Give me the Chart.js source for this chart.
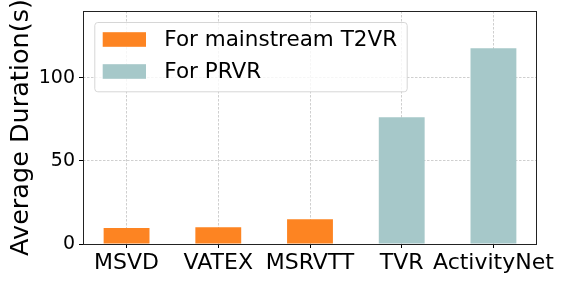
<!DOCTYPE html>
<html>
<head>
<meta charset="utf-8">
<script src="https://cdn.jsdelivr.net/npm/chart.js@4"></script>
<style>
  html, body { margin: 0; padding: 0; background: #fff; }
  #wrap { width: 568px; height: 284px; }
</style>
</head>
<body>
<div id="wrap"><canvas id="grafico" width="568" height="284"></canvas></div>
<script>
// Datos del gráfico
const categorias = ['MSVD', 'VATEX', 'MSRVTT', 'TVR', 'ActivityNet'];
const duracionT2VR = [9.6, 10.0, 14.8];      // MSVD, VATEX, MSRVTT
const duracionPRVR = [76.2, 117.6];          // TVR, ActivityNet
const etiquetasSeries = ['For mainstream T2VR', 'For PRVR'];
const ticksY = [0, 50, 100];

const FUENTE = 'DejaVu Sans';
const naranja = '#fd8422';
const verde = '#a6c8c9';

// Leyenda dentro del área del gráfico, con marco redondeado
const leyendaInterna = {
    id: 'leyendaInterna',
    afterDraw(chart) {
        const ctx = chart.ctx;
        const area = chart.chartArea;
        const x0 = area.left + 11.3, y0 = area.top + 11;
        const w = 312.4, h = 69.3;
        ctx.save();
        ctx.beginPath();
        ctx.roundRect(x0 + 0.5, y0 + 0.5, w, h, 3);
        ctx.fillStyle = 'rgba(255,255,255,0.8)';
        ctx.fill();
        ctx.strokeStyle = '#d6d6d6';
        ctx.lineWidth = 1;
        ctx.stroke();
        ctx.font = '21.5px "' + FUENTE + '"';
        ctx.textBaseline = 'middle';
        chart.data.datasets.forEach(function(ds, i) {
            const cy = y0 + 17.5 + i * 32;
            ctx.fillStyle = ds.backgroundColor;
            ctx.fillRect(x0 + 8.4, cy - 7.3, 43.3, 14.6);
            ctx.fillStyle = '#000';
            ctx.fillText(ds.label, x0 + 70, cy + 1);
        });
        ctx.restore();
    }
};

// Marco negro alrededor del área
const marco = {
    id: 'marco',
    afterDraw(chart) {
        const a = chart.chartArea;
        const ctx = chart.ctx;
        ctx.save();
        ctx.strokeStyle = '#222';
        ctx.lineWidth = 1;
        ctx.strokeRect(Math.round(a.left) + 0.5, Math.round(a.top) + 0.5,
                       Math.round(a.right - a.left) - 1, Math.round(a.bottom - a.top));
        ctx.restore();
    }
};

const puntosT2VR = duracionT2VR.map(function(v, i) { return { x: i, y: v }; });
const puntosPRVR = duracionPRVR.map(function(v, i) { return { x: i + 3, y: v }; });

const ctx = document.getElementById('grafico').getContext('2d');
const chart = new Chart(ctx, {
    type: 'bar',
    data: {
        datasets: [{
            label: etiquetasSeries[0],
            data: puntosT2VR,
            backgroundColor: naranja,
            grouped: false,
            categoryPercentage: 1,
            barPercentage: 0.5
        }, {
            label: etiquetasSeries[1],
            data: puntosPRVR,
            backgroundColor: verde,
            grouped: false,
            categoryPercentage: 1,
            barPercentage: 0.5
        }]
    },
    options: {
        responsive: false,
        animation: false,
        layout: { padding: { top: 11, right: 31, left: 0, bottom: 0 } },
        plugins: {
            legend: { display: false },
            tooltip: { enabled: false }
        },
        scales: {
            x: {
                type: 'linear',
                min: -0.475,
                max: 4.475,
                offset: false,
                z: 1,
                afterFit: function(scale) {
                    scale.height = 40;
                    scale.paddingLeft = 0;
                    scale.paddingRight = 0;
                },
                afterBuildTicks: function(scale) {
                    scale.ticks = categorias.map(function(c, i) { return { value: i }; });
                },
                ticks: {
                    includeBounds: false,
                    autoSkip: false,
                    maxRotation: 0,
                    padding: 2,
                    color: '#000',
                    font: { family: FUENTE, size: 22 },
                    callback: function(v) { return categorias[v]; }
                },
                grid: {
                    offset: false,
                    color: '#cfcfcf',
                    lineWidth: 1,
                    tickLength: 4,
                    tickColor: '#000',
                    tickWidth: 1
                },
                border: { display: false, dash: [2.5, 1.5] }
            },
            y: {
                min: 0,
                max: 140,
                z: 1,
                afterFit: function(scale) {
                    scale.width = 83;
                    scale.paddingTop = 0;
                    scale.paddingBottom = 0;
                },
                afterBuildTicks: function(scale) {
                    scale.ticks = ticksY.map(function(v) { return { value: v }; });
                },
                ticks: {
                    includeBounds: false,
                    padding: 4,
                    color: '#000',
                    font: { family: FUENTE, size: 19 }
                },
                title: {
                    display: true,
                    text: 'Average Duration(s)',
                    color: '#000',
                    font: { family: FUENTE, size: 25.5 },
                    padding: { top: 6, bottom: 0 }
                },
                grid: {
                    color: '#cfcfcf',
                    lineWidth: 1,
                    tickLength: 4,
                    tickColor: '#000',
                    tickWidth: 1
                },
                border: { display: false, dash: [2.5, 1.5] }
            }
        }
    },
    plugins: [marco, leyendaInterna]
});
</script>
</body>
</html>
